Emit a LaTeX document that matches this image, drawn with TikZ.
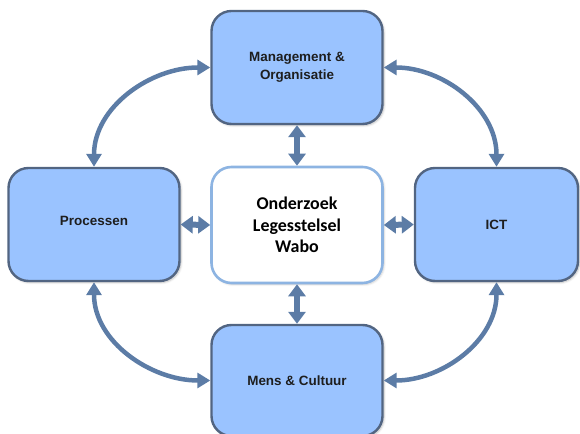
\documentclass[tikz,border=0pt]{standalone}
\usepackage{fontspec}
\setmainfont{Liberation Sans}
\newfontfamily\corefont{Carlito}
\usetikzlibrary{arrows.meta,shadows.blur}

\definecolor{boxfill}{RGB}{154,195,255}
\definecolor{boxedge}{RGB}{82,101,130}
\definecolor{linkblue}{RGB}{92,124,166}
\definecolor{coreedge}{RGB}{141,180,226}
\definecolor{textgrey}{RGB}{30,30,30}

\begin{document}
\begin{tikzpicture}[
      x=1bp, y=1bp,
      area/.style ={rectangle, rounded corners=20bp, draw=boxedge, line width=2.4bp, fill=boxfill,
                    align=center, text=textgrey, minimum width=171bp, minimum height=113bp,
                    font=\fontsize{13.5}{18}\selectfont\bfseries,
                    blur shadow={shadow xshift=1.5bp, shadow yshift=-1.5bp, shadow blur steps=6, shadow opacity=25}},
      core/.style ={rectangle, rounded corners=20bp, draw=coreedge, line width=2.6bp, fill=white,
                    align=center, text=black, minimum width=171bp, minimum height=116bp,
                    font=\corefont\fontsize{18}{21.5}\selectfont\bfseries,
                    blur shadow={shadow xshift=1.5bp, shadow yshift=-1.5bp, shadow blur steps=6, shadow opacity=20}},
      link/.style ={{Triangle[length=13bp,width=15bp]}-{Triangle[length=13bp,width=15bp]},
                    draw=linkblue, line width=4.5bp},
      stub/.style ={{Triangle[length=12bp,width=17bp]}-{Triangle[length=12bp,width=17bp]},
                    draw=linkblue, line width=6bp}
    ]
    \useasboundingbox (0,0) rectangle (580,434);
    % --- de vijf vlakken ---
    \node[area] (mgmt) at (297,366.5) {Management \&\\Organisatie};
    \node[core] (core) at (297,209)   {Onderzoek\\Legesstelsel\\Wabo};
    \node[area] (proc) at (94,209.5)  {\raisebox{7bp}{Processen}};
    \node[area, minimum width=163bp] (ict) at (496.5,209.5) {ICT};
    \node[area, minimum height=111bp] (mens) at (297,53.5) {Mens \& Cultuur};
    % --- korte pijlen naar het midden ---
    \draw[stub] (mgmt.south) -- (core.north);
    \draw[stub] (core.south) -- (mens.north);
    \draw[stub] (proc.east)  -- (core.west);
    \draw[stub] (core.east)  -- (ict.west);
    % --- gebogen pijlen rondom ---
    \draw[link] (proc.north) to[out=90,in=180]  (mgmt.west);
    \draw[link] (mgmt.east)  to[out=0,in=90]    (ict.north);
    \draw[link] (proc.south) to[out=-90,in=180] (mens.west);
    \draw[link] (mens.east)  to[out=0,in=-90]   (ict.south);
  \end{tikzpicture}
\end{document}
